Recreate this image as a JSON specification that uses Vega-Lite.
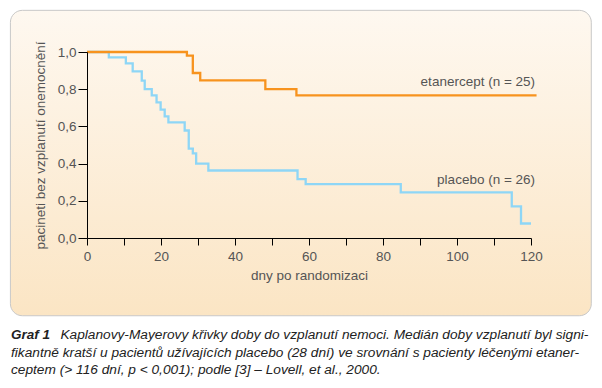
{
  "$schema": "https://vega.github.io/schema/vega-lite/v6.json",
  "width": 444,
  "height": 186,
  "autosize": {"type": "none"},
  "padding": {"left": 87, "top": 52, "right": 71, "bottom": 150},
  "background": "white",
  "config": {
    "view": {"stroke": null},
    "font": "Liberation Sans",
    "axis": {
      "grid": false,
      "labelOverlap": false,
      "labelFlush": false,
      "domainColor": "#000000",
      "domainWidth": 1,
      "tickColor": "#000000",
      "tickWidth": 1,
      "labelFont": "Liberation Sans",
      "labelFontSize": 13.5,
      "labelColor": "#555555",
      "titleFont": "Liberation Sans",
      "titleFontSize": 13.5,
      "titleFontWeight": "normal",
      "titleColor": "#555555"
    }
  },
  "title": {
    "text": "Graf 1",
    "subtitle": [
      "\u200b\u00a0\u00a0\u00a0\u00a0\u00a0\u00a0\u00a0\u00a0\u00a0\u00a0\u00a0\u00a0\u00a0Kaplanovy-Mayerovy křivky doby do vzplanutí nemoci. Medián doby vzplanutí byl signi-",
      "fikantně kratší u pacientů užívajících placebo (28 dní) ve srovnání s pacienty léčenými etaner-",
      "ceptem (> 116 dní, p < 0,001); podle [3] – Lovell, et al., 2000."
    ],
    "orient": "bottom",
    "anchor": "start",
    "frame": "group",
    "dx": -76,
    "offset": 12,
    "font": "Liberation Sans",
    "fontSize": 13.5,
    "fontStyle": "italic",
    "fontWeight": "bold",
    "color": "#222222",
    "subtitleFont": "Liberation Sans",
    "subtitleFontSize": 13.7,
    "subtitleFontStyle": "italic",
    "subtitleColor": "#222222",
    "subtitleLineHeight": 17.5,
    "subtitlePadding": -13.5
  },
  "datasets": {
    "km": [
      {"g": "placebo", "d": 0, "s": 1.0},
      {"g": "placebo", "d": 5.9, "s": 0.971},
      {"g": "placebo", "d": 10.5, "s": 0.939},
      {"g": "placebo", "d": 12.35, "s": 0.896},
      {"g": "placebo", "d": 14.8, "s": 0.846},
      {"g": "placebo", "d": 15.6, "s": 0.8},
      {"g": "placebo", "d": 17.5, "s": 0.767},
      {"g": "placebo", "d": 18.8, "s": 0.729},
      {"g": "placebo", "d": 19.9, "s": 0.69},
      {"g": "placebo", "d": 21.0, "s": 0.654},
      {"g": "placebo", "d": 22.0, "s": 0.622},
      {"g": "placebo", "d": 26.4, "s": 0.578},
      {"g": "placebo", "d": 27.5, "s": 0.48},
      {"g": "placebo", "d": 28.6, "s": 0.455},
      {"g": "placebo", "d": 29.5, "s": 0.4},
      {"g": "placebo", "d": 32.8, "s": 0.363},
      {"g": "placebo", "d": 56.9, "s": 0.317},
      {"g": "placebo", "d": 59.1, "s": 0.29},
      {"g": "placebo", "d": 84.8, "s": 0.245},
      {"g": "placebo", "d": 114.8, "s": 0.17},
      {"g": "placebo", "d": 117.3, "s": 0.078},
      {"g": "placebo", "d": 120, "s": 0.078},
      {"g": "etanercept", "d": 0, "s": 1.0},
      {"g": "etanercept", "d": 27.0, "s": 0.98},
      {"g": "etanercept", "d": 28.6, "s": 0.887},
      {"g": "etanercept", "d": 30.6, "s": 0.847},
      {"g": "etanercept", "d": 48.2, "s": 0.8},
      {"g": "etanercept", "d": 56.6, "s": 0.767},
      {"g": "etanercept", "d": 121.5, "s": 0.767}
    ],
    "labels": [
      {"t": "etanercept (n = 25)", "d": 121.1, "s": 0.837},
      {"t": "placebo (n = 26)", "d": 121.1, "s": 0.313}
    ]
  },
  "layer": [
    {
      "data": {"values": [{}]},
      "mark": {
        "type": "rect",
        "cornerRadius": 12,
        "stroke": "#c8c8c8",
        "strokeWidth": 1,
        "fill": {
          "gradient": "linear",
          "x1": 0, "y1": 0, "x2": 0, "y2": 1,
          "stops": [
            {"offset": 0, "color": "#fef8f0"},
            {"offset": 1, "color": "#fbe5c4"}
          ]
        }
      },
      "encoding": {
        "x": {"datum": -20.7, "type": "quantitative", "scale": {"domain": [0, 120], "nice": false, "zero": false}},
        "x2": {"datum": 136.3},
        "y": {"datum": 1.224, "type": "quantitative", "scale": {"domain": [0, 1], "nice": false, "zero": false}},
        "y2": {"datum": -0.418}
      }
    },
    {
      "data": {"name": "km"},
      "transform": [{"filter": "datum.g === 'placebo'"}],
      "mark": {"type": "line", "interpolate": "step-after", "color": "#8ed6f6", "strokeWidth": 2.3},
      "encoding": {
        "x": {
          "field": "d", "type": "quantitative",
          "scale": {"domain": [0, 120], "nice": false, "zero": false},
          "axis": {
            "zindex": 1,
            "tickCount": 30,
            "values": [0, 10, 20, 30, 40, 50, 60, 70, 80, 90, 100, 110, 120],
            "labelExpr": "datum.value % 20 == 0 ? datum.label : ''",
            "tickSize": 7,
            "labelPadding": 4,
            "title": "dny po randomizaci",
            "titlePadding": 6
          }
        },
        "y": {
          "field": "s", "type": "quantitative",
          "scale": {"domain": [0, 1], "nice": false, "zero": false},
          "axis": {
            "zindex": 1,
            "tickCount": 20,
            "values": [0, 0.2, 0.4, 0.6, 0.8, 1.0],
            "labelExpr": "replace(format(datum.value, '.1f'), '.', ',')",
            "tickSize": 9,
            "labelPadding": 2,
            "title": "pacineti bez vzplanutí onemocnění",
            "titlePadding": 10
          }
        }
      }
    },
    {
      "data": {"name": "km"},
      "transform": [{"filter": "datum.g === 'etanercept'"}],
      "mark": {"type": "line", "interpolate": "step-after", "color": "#f7931e", "strokeWidth": 2.3},
      "encoding": {
        "x": {"field": "d", "type": "quantitative"},
        "y": {"field": "s", "type": "quantitative"}
      }
    },
    {
      "data": {"name": "labels"},
      "mark": {"type": "text", "align": "right", "baseline": "middle", "font": "Liberation Sans", "fontSize": 13.5, "color": "#555555"},
      "encoding": {
        "x": {"field": "d", "type": "quantitative"},
        "y": {"field": "s", "type": "quantitative"},
        "text": {"field": "t"}
      }
    }
  ]
}
